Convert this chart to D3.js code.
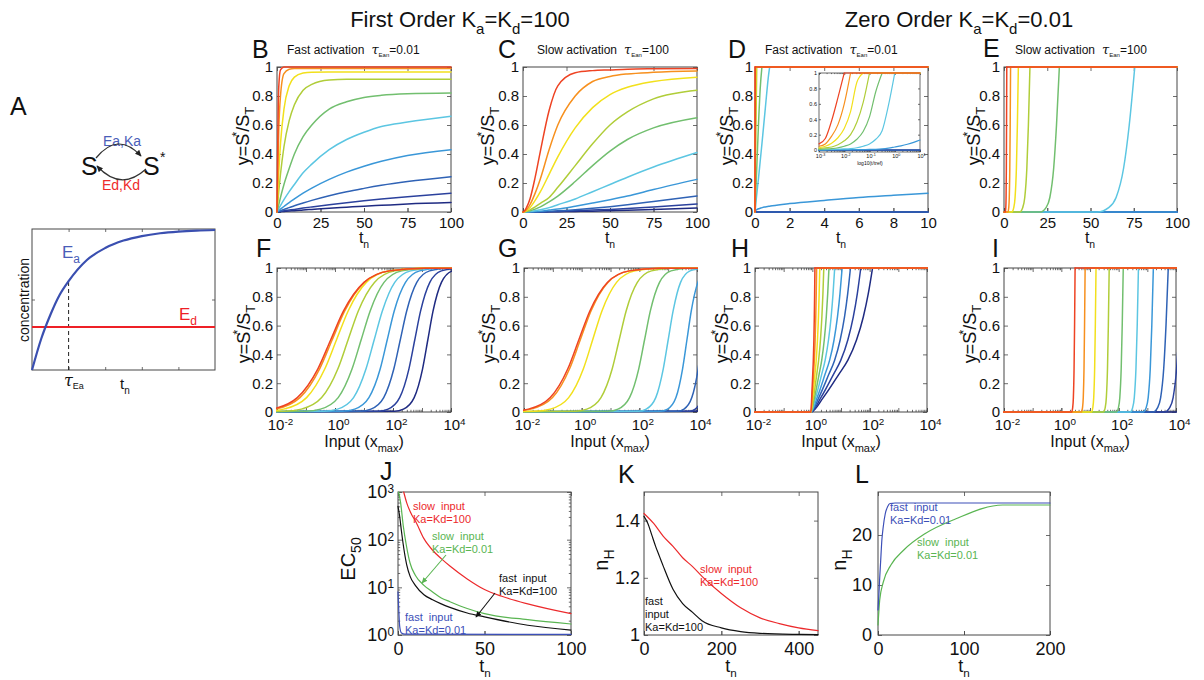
<!DOCTYPE html>
<html>
<head>
<meta charset="utf-8">
<script src="https://cdn.jsdelivr.net/npm/d3@7/dist/d3.min.js"></script>
<style>
html,body{margin:0;padding:0;background:#fff;}
svg{display:block;}
</style>
</head>
<body>
<script>
// ================= DATA =================
// Panel A (schematic)
const aTime = [0,0.25,0.5,0.75,1,1.5,2,2.5,3,3.5,4,4.5,5];
const aEa   = [0,0.22,0.39,0.53,0.63,0.78,0.865,0.918,0.95,0.97,0.982,0.989,0.993];
const aEdTime = [0,5];
const aEd   = [0.305,0.305];
const aTauEa = 1;
const aXTicks = [1,2,3,4];
const aYTicks = [0.5];

// Tick values
const ticks01   = [0,0.2,0.4,0.6,0.8,1];
const ticksT100 = [0,25,50,75,100];
const ticksT10  = [0,2,4,6,8,10];
const ticksInputLabels = [1e-2,1,1e2,1e4];
const ticksInsetX = [1e-3,1e-2,1e-1,1,10];
const jYTicks = [1,10,100,1000];
const jXTicks = [0,50,100];
const kYTicks = [1,1.2,1.4];
const kXTicks = [0,200,400];
const lYTicks = [0,10,20];
const lXTicks = [0,100,200];

// Panel B: first order, fast activation (rows: fastest/red ... slowest/navy)
const bTime = [0,1,2,4,7,10,15,20,30,40,50,60,75,100];
const bValues = [
 [0,0.86,0.98,1,1,1,1,1,1,1,1,1,1,1],
 [0,0.56,0.80,0.955,0.985,0.99,0.99,0.99,0.99,0.99,0.99,0.99,0.99,0.99],
 [0,0.27,0.47,0.71,0.87,0.93,0.958,0.964,0.965,0.965,0.965,0.965,0.965,0.965],
 [0,0.14,0.26,0.45,0.63,0.74,0.84,0.88,0.91,0.915,0.915,0.915,0.915,0.915],
 [0,0.05,0.10,0.19,0.30,0.40,0.52,0.60,0.71,0.76,0.79,0.805,0.815,0.82],
 [0,0.022,0.044,0.085,0.14,0.19,0.27,0.33,0.43,0.50,0.55,0.59,0.62,0.66],
 [0,0.01,0.02,0.038,0.065,0.09,0.13,0.165,0.225,0.275,0.316,0.35,0.39,0.43],
 [0,0.005,0.009,0.018,0.03,0.043,0.062,0.08,0.112,0.14,0.163,0.184,0.21,0.243],
 [0,0.002,0.004,0.008,0.013,0.018,0.027,0.035,0.05,0.064,0.077,0.089,0.106,0.13],
 [0,0.001,0.002,0.004,0.007,0.009,0.014,0.018,0.026,0.033,0.04,0.046,0.055,0.065]
];

// Panel C: first order, slow activation
const cTime = [0,1,2,4,7,10,15,20,30,40,50,60,75,100];
const cValues = [
 [0,0.01,0.03,0.09,0.24,0.42,0.70,0.87,0.96,0.975,0.98,0.985,0.988,0.99],
 [0,0.005,0.015,0.05,0.13,0.23,0.43,0.60,0.80,0.90,0.935,0.952,0.963,0.972],
 [0,0.003,0.01,0.03,0.08,0.14,0.26,0.38,0.58,0.72,0.81,0.86,0.90,0.93],
 [0,0.002,0.005,0.015,0.035,0.06,0.10,0.17,0.32,0.47,0.60,0.69,0.78,0.84],
 [0,0.001,0.003,0.008,0.02,0.035,0.07,0.11,0.21,0.32,0.42,0.50,0.58,0.65],
 [0,0,0.001,0.003,0.008,0.015,0.03,0.05,0.09,0.14,0.19,0.24,0.31,0.41],
 [0,0,0,0.001,0.003,0.006,0.013,0.02,0.04,0.062,0.085,0.11,0.155,0.225],
 [0,0,0,0,0.001,0.002,0.005,0.008,0.016,0.026,0.037,0.05,0.072,0.11],
 [0,0,0,0,0,0.001,0.002,0.004,0.008,0.013,0.018,0.024,0.035,0.055],
 [0,0,0,0,0,0,0.001,0.002,0.004,0.006,0.009,0.012,0.018,0.028]
];

// Panel D: zero order, fast activation
const dTime = [0,0.01,0.02,0.05,0.1,0.2,0.3,0.4,0.6,0.8,0.85,1,2,4,6,8,10];
const dValues = [
 [0,1,1,1,1,1,1,1,1,1,1,1,1,1,1,1,1],
 [0,0.6,1,1,1,1,1,1,1,1,1,1,1,1,1,1,1],
 [0,0.3,0.55,1,1,1,1,1,1,1,1,1,1,1,1,1,1],
 [0,0.1,0.2,0.55,1,1,1,1,1,1,1,1,1,1,1,1,1],
 [0,0.03,0.06,0.15,0.3,0.6,0.85,1,1,1,1,1,1,1,1,1,1],
 [0,0.01,0.02,0.06,0.12,0.23,0.35,0.47,0.72,0.96,1,1,1,1,1,1,1],
 [0,0.005,0.008,0.012,0.016,0.022,0.026,0.03,0.035,0.039,0.04,0.043,0.058,0.08,0.1,0.115,0.13],
 [0,0,0,0,0,0,0,0,0,0,0,0,0,0,0,0,0],
 [0,0,0,0,0,0,0,0,0,0,0,0,0,0,0,0,0],
 [0,0,0,0,0,0,0,0,0,0,0,0,0,0,0,0,0]
];
// Panel D inset (log10 time)
const insetLogT = [-3,-2.75,-2.5,-2.25,-2,-1.75,-1.5,-1.25,-1,-0.75,-0.5,-0.25,0,0.25,0.5,0.75,1];
const insetValues = [
 [0.08,0.15,0.38,0.68,1,1,1,1,1,1,1,1,1,1,1,1,1],
 [0.05,0.08,0.18,0.33,0.6,1,1,1,1,1,1,1,1,1,1,1,1],
 [0.03,0.05,0.09,0.16,0.28,0.5,0.88,1,1,1,1,1,1,1,1,1,1],
 [0.02,0.03,0.04,0.07,0.12,0.2,0.36,0.62,1,1,1,1,1,1,1,1,1],
 [0.01,0.015,0.02,0.03,0.05,0.08,0.14,0.24,0.43,0.76,1,1,1,1,1,1,1],
 [0.005,0.007,0.009,0.012,0.015,0.02,0.03,0.05,0.08,0.14,0.25,0.58,1,1,1,1,1],
 [0.003,0.003,0.004,0.004,0.005,0.005,0.006,0.007,0.008,0.01,0.015,0.025,0.04,0.055,0.075,0.1,0.13],
 [0,0,0,0,0,0,0,0,0,0,0,0,0,0,0,0,0],
 [0,0,0,0,0,0,0,0,0,0,0,0,0,0,0,0,0],
 [0,0,0,0,0,0,0,0,0,0,0,0,0,0,0,0,0]
];

// Panel E: zero order, slow activation ([t, y] pairs)
const eSeries = [
 [[0,0],[0.8,0],[1.04,0.03],[1.2,0.1],[1.36,0.3],[1.48,0.6],[1.6,1],[100,1]],
 [[0,0],[2.3,0],[2.75,0.03],[3.05,0.1],[3.35,0.3],[3.58,0.6],[3.8,1],[100,1]],
 [[0,0],[4.5,0],[5.64,0.03],[6.4,0.1],[7.16,0.3],[7.73,0.6],[8.3,1],[100,1]],
 [[0,0],[9,0],[10.8,0.03],[12,0.1],[13.2,0.3],[14.1,0.6],[15,1],[100,1]],
 [[0,0],[21,0],[24.3,0.03],[26.5,0.1],[28.7,0.3],[30.35,0.6],[32,1],[100,1]],
 [[0,0],[54,0],[60.5,0.03],[64.8,0.1],[69.1,0.3],[72.4,0.6],[75.6,1],[100,1]],
 [[0,0],[100,0]],
 [[0,0],[100,0]],
 [[0,0],[100,0]],
 [[0,0],[100,0]]
];

// Panels F, G: dose responses (log10 input at each response level)
const sigLevels = [0,0.005,0.02,0.1,0.3,0.5,0.7,0.9,0.98,0.998,1];
const fLogX = [
 [-4,-2.92,-2.18,-1.30,-0.59,-0.15,0.29,1.00,1.88,3.10,6],
 [-4,-2.77,-2.06,-1.21,-0.53,-0.10,0.33,1.01,1.86,3.04,6],
 [-4,-2.43,-1.77,-0.98,-0.35,0.05,0.45,1.08,1.87,2.96,6],
 [-4,-1.75,-1.16,-0.46,0.10,0.45,0.80,1.36,2.06,3.03,6],
 [-4,-1.01,-0.50,0.11,0.59,0.90,1.21,1.69,2.30,3.14,6],
 [-4,-0.37,0.09,0.64,1.07,1.35,1.63,2.06,2.61,3.37,6],
 [-4,0.27,0.68,1.17,1.56,1.80,2.04,2.43,2.92,3.59,6],
 [-4,0.87,1.24,1.68,2.03,2.25,2.47,2.82,3.26,3.86,6],
 [-4,1.49,1.83,2.23,2.55,2.75,2.95,3.27,3.67,4.23,6],
 [-4,2.05,2.36,2.73,3.02,3.20,3.38,3.67,4.04,4.54,6]
];
const gLogX = [
 [-4,-2.49,-1.85,-1.09,-0.48,-0.10,0.28,0.89,1.65,2.70,6],
 [-4,-2.38,-1.76,-1.01,-0.42,-0.05,0.32,0.91,1.66,2.68,6],
 [-4,-1.63,-1.09,-0.45,0.06,0.38,0.70,1.21,1.85,2.73,6],
 [-4,-0.23,0.18,0.67,1.06,1.30,1.54,1.93,2.42,3.09,6],
 [-4,0.92,1.26,1.66,1.98,2.18,2.38,2.70,3.10,3.66,6],
 [-4,1.97,2.24,2.57,2.83,3.00,3.17,3.43,3.76,4.21,6],
 [-4,2.73,2.98,3.27,3.50,3.65,3.80,4.03,4.32,4.73,6],
 [-4,3.33,3.55,3.82,4.04,4.17,4.30,4.52,4.79,5.16,6],
 [-4,3.74,3.94,4.18,4.38,4.50,4.62,4.82,5.06,5.40,6],
 [-4,3.93,4.13,4.36,4.54,4.66,4.78,4.96,5.19,5.51,6]
];
// Panel H
const hLevels = [0,0,0.1,0.26,0.36,0.5,0.66,0.82,1,1];
const hLogX = [
 [-4,-0.05,-0.022,0.013,0.034,0.054,0.069,0.080,0.09,6],
 [-4,-0.05,-0.01,0.04,0.07,0.098,0.12,0.136,0.15,6],
 [-4,-0.05,0.012,0.09,0.136,0.179,0.214,0.238,0.26,6],
 [-4,-0.05,0.04,0.153,0.22,0.283,0.333,0.369,0.40,6],
 [-4,-0.05,0.076,0.234,0.328,0.416,0.486,0.536,0.58,6],
 [-4,-0.05,0.116,0.324,0.448,0.564,0.656,0.722,0.78,6],
 [-4,-0.05,0.168,0.44,0.604,0.757,0.877,0.964,1.04,6],
 [-4,-0.05,0.226,0.571,0.778,0.971,1.123,1.233,1.33,6],
 [-4,-0.05,0.298,0.733,0.994,1.238,1.429,1.568,1.69,6],
 [-4,-0.05,0.38,0.918,1.24,1.541,1.778,1.95,2.10,6]
];
// Panel I
const iLevels = [0,0,0.03,0.1,0.3,0.6,1,1];
const iLogX = [
 [-4,0.36,0.396,0.42,0.444,0.462,0.48,6],
 [-4,0.70,0.739,0.765,0.791,0.81,0.83,6],
 [-4,1.05,1.098,1.13,1.162,1.186,1.21,6],
 [-4,1.47,1.53,1.57,1.61,1.64,1.67,6],
 [-4,1.92,1.992,2.04,2.088,2.124,2.16,6],
 [-4,2.40,2.487,2.545,2.603,2.647,2.69,6],
 [-4,2.85,2.958,3.03,3.102,3.156,3.21,6],
 [-4,3.20,3.359,3.465,3.571,3.651,3.73,6],
 [-4,3.60,3.78,3.90,4.02,4.11,4.20,6],
 [-4,4.30,4.50,4.60,4.70,4.80,4.90,6]
];

// Panel J: EC50 vs time
const jTimeRed   = [3.3,5,8,10,15,20,25,30,40,50,60,75,100];
const jEC50Red   = [1000,600,330,250,105,60,40,28,15,9,6.5,4.5,2.8];
const jTimeGreen = [0.3,1.5,3,5,7,10,15,20,25,30,40,50,75,100];
const jEC50Green = [1000,600,200,70,32,18,11,8,6,5,3.6,2.8,2.1,1.7];
const jTimeBlack = [0,1,2,3,5,7,10,15,20,25,30,40,50,75,100];
const jEC50Black = [500,300,150,80,30,17,11,7,5.5,4.5,3.8,2.9,2.4,1.6,1.27];
const jTimeBlue  = [0,0.5,1,2,4,100];
const jEC50Blue  = [8,3,1.5,1.1,1.04,1.03];

// Panel K: Hill coefficient, first order
const kTimeRed   = [0,25,50,75,100,125,150,200,250,300,350,400,450];
const kNHRed     = [1.425,1.39,1.345,1.31,1.27,1.24,1.205,1.145,1.095,1.06,1.04,1.025,1.015];
const kTimeBlack = [0,10,20,30,40,50,75,100,125,150,200,250,300,400,450];
const kNHBlack   = [1.415,1.39,1.35,1.31,1.275,1.24,1.16,1.11,1.08,1.05,1.025,1.012,1.006,1.002,1.001];

// Panel L: Hill coefficient, zero order
const lTimeBlue  = [0,1,2,3,4.5,6,8.5,11,14,20,200];
const lNHBlue    = [5,8,11.5,14.5,19,21.5,24.3,25.6,26.3,26.4,26.4];
const lTimeGreen = [0,2,6,15,30,55,90,145,200];
const lNHGreen   = [2,7,10.5,14,17,20.3,23.2,26,26];

// ================= STYLE / DRAWING =================
const FONT = '"Liberation Sans", Arial, Helvetica, sans-serif';
const INK = '#111', FRAME = '#474747';
const jet = ["#ee4323","#f7901e","#f2e01c","#b0cd39","#72bf6f","#5cc6e2","#3a97d8","#2f62b5","#2b419d","#1f2b82"];
const C_RED = "#ec2a2c", C_GREEN = "#5ab552", C_BLUE = "#3c4fb8", C_BLACK = "#111";

const svg = d3.select('body').append('svg').attr('width',1204).attr('height',680).attr('font-family',FONT);
svg.append('rect').attr('width',1204).attr('height',680).attr('fill','#fff');
const defs = svg.append('defs');
function marker(id,color){
  defs.append('marker').attr('id',id).attr('viewBox','0 0 10 10').attr('refX',8).attr('refY',5)
    .attr('markerWidth',6).attr('markerHeight',6).attr('orient','auto')
    .append('path').attr('d','M0,1 L9,5 L0,9 z').attr('fill',color);
}
marker('ahDark','#222'); marker('ahGreen',C_GREEN); marker('ahBlack',C_BLACK);

let clipCount = 0;
function addAxis(g, orient, scale, pos, vals, len, pad, fs, fmt){
  const fn = {bottom:d3.axisBottom, top:d3.axisTop, left:d3.axisLeft, right:d3.axisRight}[orient];
  const ax = fn(scale).tickValues(vals).tickSizeInner(-len).tickSizeOuter(0).tickPadding(pad).tickFormat(fmt || (()=>''));
  const horiz = orient==='bottom' || orient==='top';
  const a = g.append('g').attr('transform', horiz ? `translate(0,${pos})` : `translate(${pos},0)`).call(ax);
  a.attr('font-family',FONT).attr('font-size',fs);
  a.select('.domain').remove();
  a.selectAll('line').attr('stroke',FRAME).attr('stroke-width',0.8);
  a.selectAll('text').attr('fill',INK);
  if (!fmt) a.selectAll('text').remove();
  return a;
}
function supLabels(a, fs, dx){
  a.selectAll('text').each(function(d){
    const t = d3.select(this);
    const e = Math.round(Math.log10(d));
    t.text('10');
    t.append('tspan').attr('dy','-0.45em').attr('font-size',fs*0.66).text(String(e));
    if (dx) t.attr('dx', dx);
  });
}
function decades(lo,hi){ const v=[]; for(let e=lo;e<=hi;e++) v.push(Math.pow(10,e)); return v; }
function minors(lo,hi){ const v=[]; for(let e=lo;e<hi;e++) for(let m=2;m<=9;m++) v.push(m*Math.pow(10,e)); return v; }

function makePanel(o){
  const g = svg.append('g');
  const x = (o.xlog ? d3.scaleLog() : d3.scaleLinear()).domain(o.xd).range([o.l,o.r]);
  const y = (o.ylog ? d3.scaleLog() : d3.scaleLinear()).domain(o.yd).range([o.b,o.t]);
  if (o.bg) g.append('rect').attr('x',o.l).attr('y',o.t).attr('width',o.r-o.l).attr('height',o.b-o.t).attr('fill','#fff');
  const id = 'clip'+(clipCount++);
  defs.append('clipPath').attr('id',id).append('rect').attr('x',o.l-1).attr('y',o.t-1.5).attr('width',o.r-o.l+2).attr('height',o.b-o.t+3);
  const len = o.len || 4, fs = o.fs;
  const xAll = o.xlog ? decades(Math.round(Math.log10(o.xd[0])), Math.round(Math.log10(o.xd[1]))) : o.xticks;
  addAxis(g,'bottom',x,o.b,xAll,len,0,fs);
  addAxis(g,'top',x,o.t,xAll,len,0,fs);
  if (o.xlog){
    const mn = minors(Math.round(Math.log10(o.xd[0])), Math.round(Math.log10(o.xd[1])));
    addAxis(g,'bottom',x,o.b,mn,len*0.55,0,fs);
    addAxis(g,'top',x,o.t,mn,len*0.55,0,fs);
    const a = addAxis(g,'bottom',x,o.b,o.xticks,len,o.xpad,fs,()=> 'L');
    supLabels(a, fs, o.supdx||3);
  } else {
    addAxis(g,'bottom',x,o.b,o.xticks,len,o.xpad,fs,o.xfmt);
  }
  if (o.ylog){
    const yAll = decades(Math.round(Math.log10(o.yd[0])), Math.round(Math.log10(o.yd[1])));
    const mn = minors(Math.round(Math.log10(o.yd[0])), Math.round(Math.log10(o.yd[1])));
    addAxis(g,'right',y,o.r,yAll,len,0,fs);
    addAxis(g,'left',y,o.l,mn,len*0.55,0,fs);
    addAxis(g,'right',y,o.r,mn,len*0.55,0,fs);
    const a = addAxis(g,'left',y,o.l,o.yticks,len,o.ypad,fs,()=> 'L');
    supLabels(a, fs, 0);
  } else {
    addAxis(g,'left',y,o.l,o.yticks,len,o.ypad,fs,o.yfmt);
    addAxis(g,'right',y,o.r,o.yticks,len,0,fs);
  }
  g.append('rect').attr('x',o.l).attr('y',o.t).attr('width',o.r-o.l).attr('height',o.b-o.t)
    .attr('fill','none').attr('stroke',FRAME).attr('stroke-width',o.frameW||1);
  const plot = g.append('g').attr('clip-path',`url(#${id})`);
  return {g,x,y,plot};
}

function drawCurve(p, pts, color, width, sharp){
  const mono = d3.line().x(d=>p.x(d[0])).y(d=>p.y(d[1])).curve(d3.curveMonotoneX);
  const lin = d3.line().x(d=>p.x(d[0])).y(d=>p.y(d[1]));
  const add = d => p.plot.append('path').attr('d',d).attr('fill','none').attr('stroke',color)
      .attr('stroke-width',width).attr('stroke-linejoin','round').attr('stroke-linecap','round');
  if (sharp){
    const k = pts.findIndex(d=>d[1]>=0.999);
    if (k>0){ add(mono(pts.slice(0,k+1))); add(lin(pts.slice(k))); return; }
  }
  add(mono(pts));
}

const fmt01 = d => d===0 ? '0' : d===1 ? '1' : d.toFixed(1);
const fmtInt = d3.format('d');

// ---------- text helpers ----------
function label(x,y,str,fs,fill,anchor){
  const t = svg.append('text').attr('x',x).attr('y',y).attr('font-size',fs).attr('fill',fill||INK).text(str);
  if (anchor) t.attr('text-anchor',anchor);
  return t;
}
function ySlabel(cx,cy){
  const t = svg.append('text').attr('transform',`translate(${cx},${cy}) rotate(-90)`)
    .attr('text-anchor','middle').attr('font-size',18).attr('fill',INK);
  t.append('tspan').text('y=S');
  t.append('tspan').attr('dy',-8).attr('dx',-3).attr('font-size',13).text('*');
  t.append('tspan').attr('dy',8).text('/S');
  t.append('tspan').attr('dy',5).attr('font-size',13).text('T');
}
function xTn(cx,by,fs){
  const t = svg.append('text').attr('x',cx).attr('y',by).attr('text-anchor','middle').attr('font-size',fs).attr('fill',INK);
  t.append('tspan').text('t');
  t.append('tspan').attr('dy',fs*0.3).attr('font-size',fs*0.65).text('n');
}
function xInput(cx,by){
  const t = svg.append('text').attr('x',cx).attr('y',by).attr('text-anchor','middle').attr('font-size',16).attr('fill',INK);
  t.append('tspan').text('Input (x');
  t.append('tspan').attr('dy',5).attr('font-size',11).text('max');
  t.append('tspan').attr('dy',-5).text(')');
}
function subtitle(x,txt,val){
  const t = svg.append('text').attr('x',x).attr('y',54).attr('font-size',12).attr('fill',INK);
  t.append('tspan').text(txt);
  t.append('tspan').attr('dx',7).attr('font-style','italic').attr('font-size',13).attr('font-family','"DejaVu Serif", serif').text('τ');
  t.append('tspan').attr('font-size',6).attr('dy',3).text('Ean');
  t.append('tspan').attr('dy',-3).text('='+val);
}
function rotLabel(cx,cy,main,sub,fs){
  const t = svg.append('text').attr('transform',`translate(${cx},${cy}) rotate(-90)`)
    .attr('text-anchor','middle').attr('font-size',fs).attr('fill',INK);
  t.append('tspan').text(main);
  t.append('tspan').attr('dy',fs*0.3).attr('font-size',fs*0.7).text(sub);
}

// ---------- Titles ----------
function title(cx,val){
  const t = svg.append('text').attr('x',cx).attr('y',27).attr('text-anchor','middle').attr('font-size',22).attr('fill',INK);
  t.append('tspan').text(val[0]);
  t.append('tspan').attr('font-size',15).attr('dy',7).text('a');
  t.append('tspan').attr('dy',-7).text('=K');
  t.append('tspan').attr('font-size',15).attr('dy',7).text('d');
  t.append('tspan').attr('dy',-7).text('='+val[1]);
}
title(460,['First Order K','100']);
title(959,['Zero Order K','0.01']);

// panel letters
[['A',10,115],['B',252,58],['C',498,58],['D',728,58],['E',983,57],
 ['F',256,257],['G',498,257],['H',731,257],['I',992,257],
 ['J',380,480],['K',618,483],['L',855,483]].forEach(d=>label(d[1],d[2],d[0],25));

// ---------- Panel A ----------
label(81,175,'S',25);
label(143,175,'S',25);
label(160,162,'*',14);
label(103,146,'Ea,Ka',14,'#4a5db8');
label(102,190,'Ed,Kd',14,'#ee2b2b');
svg.append('path').attr('d','M96,158 Q118,131 141,156').attr('fill','none').attr('stroke','#333').attr('stroke-width',1.2).attr('marker-end','url(#ahDark)');
svg.append('path').attr('d','M146,169 Q121,192 97,166').attr('fill','none').attr('stroke','#333').attr('stroke-width',1.2).attr('marker-end','url(#ahDark)');

const pA = (function(){
  const o = {l:32,r:215,t:229,b:370};
  const g = svg.append('g');
  const x = d3.scaleLinear().domain([0,5]).range([o.l,o.r]);
  const y = d3.scaleLinear().domain([0,1]).range([o.b,o.t]);
  addAxis(g,'bottom',x,o.b,aXTicks,3,0,10);
  addAxis(g,'top',x,o.t,aXTicks,3,0,10);
  addAxis(g,'left',y,o.l,aYTicks,3,0,10);
  addAxis(g,'right',y,o.r,aYTicks,3,0,10);
  g.append('rect').attr('x',o.l).attr('y',o.t).attr('width',o.r-o.l).attr('height',o.b-o.t).attr('fill','none').attr('stroke',FRAME).attr('stroke-width',1);
  return {g,x,y,plot:g.append('g')};
})();
const tauY = aEa[aTime.indexOf(aTauEa)];
pA.plot.append('line').attr('x1',pA.x(aTauEa)).attr('x2',pA.x(aTauEa)).attr('y1',pA.y(0)).attr('y2',pA.y(tauY))
  .attr('stroke','#222').attr('stroke-width',1).attr('stroke-dasharray','4,3');
pA.plot.append('path').attr('d', d3.line().x(d=>pA.x(d[0])).y(d=>pA.y(d[1])).curve(d3.curveMonotoneX)(aEdTime.map((t,i)=>[t,aEd[i]])))
  .attr('fill','none').attr('stroke','#ee2026').attr('stroke-width',1.8);
pA.plot.append('path').attr('d', d3.line().x(d=>pA.x(d[0])).y(d=>pA.y(d[1])).curve(d3.curveMonotoneX)(aTime.map((t,i)=>[t,aEa[i]])))
  .attr('fill','none').attr('stroke','#3a4fb0').attr('stroke-width',2.2);
(function(){
  const t = label(62,258,'E',17,'#4a5db8'); t.append('tspan').attr('dy',5).attr('font-size',12).text('a');
  const t2 = label(179,320,'E',17,'#ee2026'); t2.append('tspan').attr('dy',5).attr('font-size',12).text('d');
  const t3 = label(64,386,'τ',16); t3.attr('font-style','italic').attr('font-family','"DejaVu Serif", serif');
  t3.append('tspan').attr('dy',3).attr('font-size',9).attr('font-style','normal').attr('font-family',FONT).text('Ea');
  const t4 = label(120,389,'t',15); t4.append('tspan').attr('dy',5).attr('font-size',10).text('n');
  svg.append('text').attr('transform','translate(29,300) rotate(-90)').attr('text-anchor','middle').attr('font-size',14).attr('fill',INK).text('concentration');
})();

// ---------- Row 1 ----------
const row1 = {t:67,b:212,fs:15,xpad:5,ypad:4,yticks:ticks01,yfmt:fmt01,yd:[0,1]};
const pB = makePanel(Object.assign({},row1,{l:277,r:451,xd:[0,100],xticks:ticksT100,xfmt:fmtInt}));
for (let i=9;i>=0;i--) drawCurve(pB, bTime.map((t,j)=>[t,bValues[i][j]]), jet[i], 1.5);
const pC = makePanel(Object.assign({},row1,{l:523,r:697,xd:[0,100],xticks:ticksT100,xfmt:fmtInt}));
for (let i=9;i>=0;i--) drawCurve(pC, cTime.map((t,j)=>[t,cValues[i][j]]), jet[i], 1.5);
const pD = makePanel(Object.assign({},row1,{l:755,r:928,xd:[0,10],xticks:ticksT10,xfmt:fmtInt,ypad:2}));
for (let i=9;i>=0;i--) drawCurve(pD, dTime.map((t,j)=>[t,dValues[i][j]]), jet[i], 1.5, true);
const pE = makePanel(Object.assign({},row1,{l:1004,r:1177,xd:[0,100],xticks:ticksT100,xfmt:fmtInt}));
for (let i=9;i>=0;i--) drawCurve(pE, eSeries[i], jet[i], 1.5, true);

// inset in D
const pIn = makePanel({l:819,r:920,t:73,b:152,xlog:true,xd:[1e-3,10],xticks:ticksInsetX,yd:[-0.025,1],yticks:ticks01,
  yfmt:fmt01,fs:5.5,xpad:2,ypad:2,len:2,bg:true,frameW:0.8,supdx:1});
for (let i=9;i>=0;i--) drawCurve(pIn, insetLogT.map((e,j)=>[Math.pow(10,e),insetValues[i][j]]), jet[i], 1.2, true);
label(870,165,'log10(t/tref)',5,INK,'middle');

// ---------- Row 2 ----------
const row2 = {t:268,b:412,fs:15,xpad:7,ypad:4,yticks:ticks01,yfmt:fmt01,yd:[0,1],xlog:true,xd:[1e-2,1e4],xticks:ticksInputLabels};
const pF = makePanel(Object.assign({},row2,{l:277,r:451}));
for (let i=9;i>=0;i--) drawCurve(pF, fLogX[i].map((e,j)=>[Math.pow(10,e),sigLevels[j]]), jet[i], 1.5);
const pG = makePanel(Object.assign({},row2,{l:524,r:697}));
for (let i=9;i>=0;i--) drawCurve(pG, gLogX[i].map((e,j)=>[Math.pow(10,e),sigLevels[j]]), jet[i], 1.5);
const pH = makePanel(Object.assign({},row2,{l:755,r:927}));
for (let i=9;i>=0;i--) drawCurve(pH, hLogX[i].map((e,j)=>[Math.pow(10,e),hLevels[j]]), jet[i], 1.5, true);
const pI = makePanel(Object.assign({},row2,{l:1004,r:1176}));
for (let i=9;i>=0;i--) drawCurve(pI, iLogX[i].map((e,j)=>[Math.pow(10,e),iLevels[j]]), jet[i], 1.5, true);

// axis labels rows 1-2
[[249,136],[494,136],[733,136],[980,136],[250,334],[495,334],[728,334],[976,334]].forEach(d=>ySlabel(d[0],d[1]));
[364,610,841,1090].forEach(cx=>xTn(cx,243,16));
[364,610,841,1090].forEach(cx=>xInput(cx,447));
subtitle(287,'Fast activation','0.01');
subtitle(537,'Slow activation','100');
subtitle(765,'Fast activation','0.01');
subtitle(1015,'Slow activation','100');

// ---------- Row 3 ----------
const pJ = makePanel({l:398,r:571,t:492,b:635,xd:[0,100],yd:[1,1000],ylog:true,xticks:jXTicks,yticks:jYTicks,
  xfmt:fmtInt,fs:18,xpad:7,ypad:4,len:4});
drawCurve(pJ, jTimeBlue.map((t,i)=>[t,jEC50Blue[i]]), C_BLUE, 1.2);
drawCurve(pJ, jTimeBlack.map((t,i)=>[t,jEC50Black[i]]), C_BLACK, 1.2);
drawCurve(pJ, jTimeGreen.map((t,i)=>[t,jEC50Green[i]]), C_GREEN, 1.2);
drawCurve(pJ, jTimeRed.map((t,i)=>[t,jEC50Red[i]]), C_RED, 1.2);

const pK = makePanel({l:644,r:818,t:492,b:635,xd:[0,450],yd:[1,1.5],xticks:kXTicks,yticks:kYTicks,
  xfmt:fmtInt,yfmt:d=>d===1?'1':d.toFixed(1),fs:18,xpad:7,ypad:4,len:4});
drawCurve(pK, kTimeBlack.map((t,i)=>[t,kNHBlack[i]]), C_BLACK, 1.2);
drawCurve(pK, kTimeRed.map((t,i)=>[t,kNHRed[i]]), C_RED, 1.2);

const pL = makePanel({l:878,r:1050,t:492,b:635,xd:[0,200],yd:[0,28.6],xticks:lXTicks,yticks:lYTicks,
  xfmt:fmtInt,yfmt:fmtInt,fs:18,xpad:7,ypad:6,len:4});
drawCurve(pL, lTimeGreen.map((t,i)=>[t,lNHGreen[i]]), C_GREEN, 1.2);
drawCurve(pL, lTimeBlue.map((t,i)=>[t,lNHBlue[i]]), C_BLUE, 1.2);

rotLabel(355,559,'EC','50',20);
rotLabel(608,560,'n','H',20);
rotLabel(846,560,'n','H',20);
xTn(485,672,18); xTn(731,672,18); xTn(964,672,18);

// annotations
function two(x,y,l1,l2,color){
  label(x,y,l1,11,color).attr('word-spacing',3);
  label(x,y+13,l2,11,color);
}
two(413,510,'slow input','Ka=Kd=100',C_RED);
two(432,540,'slow input','Ka=Kd=0.01',C_GREEN);
two(499,582,'fast input','Ka=Kd=100',C_BLACK);
two(405,621,'fast input','Ka=Kd=0.01',C_BLUE);
svg.append('line').attr('x1',446).attr('y1',555).attr('x2',422).attr('y2',583).attr('stroke',C_GREEN).attr('stroke-width',1.1).attr('marker-end','url(#ahGreen)');
svg.append('line').attr('x1',495).attr('y1',593).attr('x2',476).attr('y2',617).attr('stroke',C_BLACK).attr('stroke-width',1.1).attr('marker-end','url(#ahBlack)');
two(700,573,'slow input','Ka=Kd=100',C_RED);
label(645,605,'fast',11); label(645,618,'input',11); label(645,631,'Ka=Kd=100',11);
two(890,511,'fast input','Ka=Kd=0.01',C_BLUE);
two(917,546,'slow input','Ka=Kd=0.01',C_GREEN);
</script>
</body>
</html>
